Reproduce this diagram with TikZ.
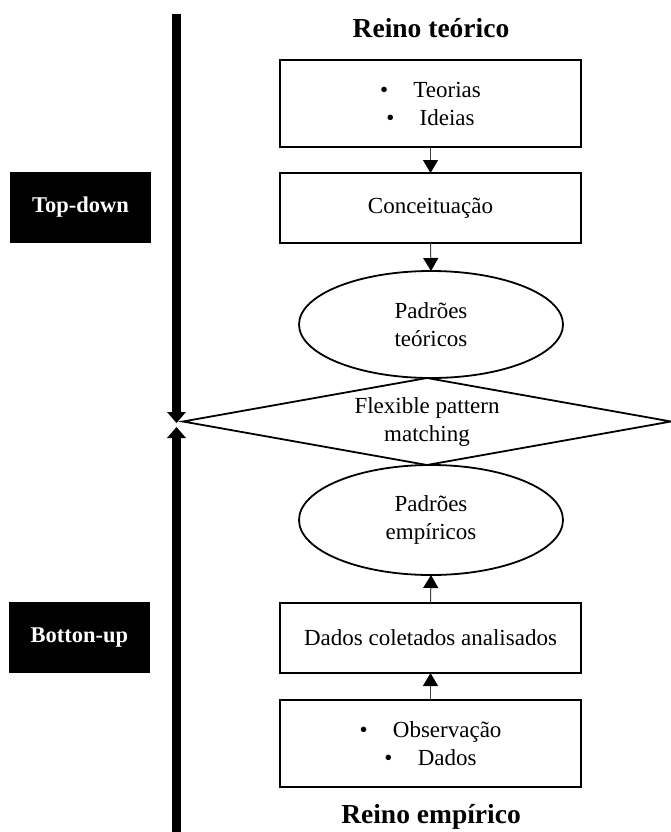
\documentclass[tikz,border=0pt]{standalone}
\usepackage{fontspec}
\setmainfont{Liberation Serif}
\usetikzlibrary{shapes.geometric,arrows.meta}
\begin{document}
\begin{tikzpicture}[x=1pt,y=-1pt,
  every node/.style={inner sep=0pt, outer sep=0pt},
  txt/.style={font=\fontsize{23}{28}\selectfont, align=center},
  box/.style={txt, draw, line width=2pt, minimum width=301pt},
  oval/.style={txt, ellipse, draw, line width=1.8pt, minimum width=264pt},
  realm/.style={font=\fontsize{27.5}{32}\selectfont\bfseries},
  tag/.style={fill=black, text=white, minimum width=141pt, minimum height=71pt,
              font=\fontsize{22.5}{27}\selectfont\bfseries},
  flow/.style={line width=1pt, draw=black!75, -{Triangle[width=15pt,length=13pt,color=black]}},
  axis/.style={line width=9pt, -{Triangle[width=19pt,length=11pt,line width=0pt]}}
]
\useasboundingbox (0,0) rectangle (671,832);

% realm headings
\node[realm] (rt) at (431,28) {Reino teórico};
\node[realm] (re) at (431,817) {Reino empírico};

% theoretical side
\node[box, minimum height=87pt] (teo) at (430.5,103.5)
  {\textbullet\hspace{1.1em}Teorias\\\textbullet\hspace{1.1em}Ideias};
\node[box, minimum height=70pt] (conc) at (430.5,208) {Conceituação};
\node[oval, minimum height=107pt] (pteo) at (431,324.5) {Padrões\\teóricos};

% matching step
\node[txt, diamond, draw, line width=1.8pt, aspect=5.6,
      minimum width=488pt, minimum height=87pt] (fpm) at (427,421.5)
  {Flexible pattern\\matching};

% empirical side
\node[oval, minimum height=110pt] (pemp) at (431,520) {Padrões\\empíricos};
\node[box, minimum height=70pt] (dados) at (430.5,638) {Dados coletados analisados};
\node[box, minimum height=87pt] (obs) at (430.5,743.5)
  {\textbullet\hspace{1.1em}Observação\\\textbullet\hspace{1.1em}Dados};

\draw[flow] (teo.south) -- (conc.north);
\draw[flow] (conc.south) -- (pteo.north);
\draw[flow] (dados.north) -- (pemp.south);
\draw[flow] (obs.north) -- (dados.south);

% direction labels
\node[tag] (td) at (80.5,207.5) {Top-down};
\node[tag] (bu) at (79.5,637.5) {Botton-up};

% vertical axis
\coordinate (axTop) at (176.5,14);
\coordinate (axMidA) at (176.5,423);
\coordinate (axMidB) at (176.5,427);
\coordinate (axBot) at (176.5,832);
\draw[axis] (axTop) -- (axMidA);
\draw[axis] (axBot) -- (axMidB);
\end{tikzpicture}
\end{document}
